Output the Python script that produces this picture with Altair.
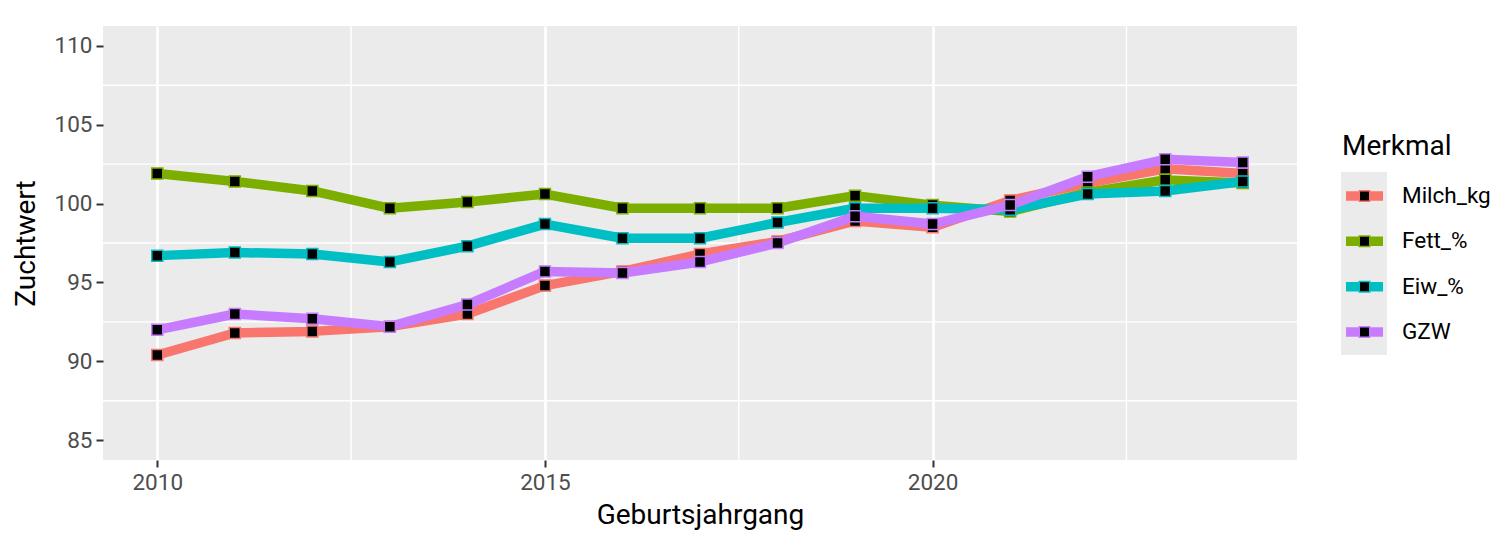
import altair as alt
import pandas as pd

years = list(range(2010, 2025))
milch_kg = [90.4, 91.8, 91.9, 92.2, 93.0, 94.8, 95.7, 96.8, 97.6, 98.9, 98.5, 100.2, 101.3, 102.2, 101.9]
fett_pct = [101.9, 101.4, 100.8, 99.7, 100.1, 100.6, 99.7, 99.7, 99.7, 100.5, 99.9, 99.5, 100.7, 101.5, 101.3]
eiw_pct = [96.7, 96.9, 96.8, 96.3, 97.3, 98.7, 97.8, 97.8, 98.8, 99.7, 99.7, 99.6, 100.6, 100.8, 101.4]
gzw = [92.0, 93.0, 92.7, 92.2, 93.6, 95.7, 95.6, 96.3, 97.5, 99.2, 98.7, 99.9, 101.7, 102.8, 102.6]

categories = ["Milch_kg", "Fett_%", "Eiw_%", "GZW"]
colors = ["#F8766D", "#7CAE00", "#00BFC4", "#C77CFF"]

x_ticks = [2010, 2015, 2020]
x_minor = [2012.5, 2017.5, 2022.5]
y_ticks = [85, 90, 95, 100, 105, 110]
y_minor = [87.5, 92.5, 97.5, 102.5, 107.5]

series = {"Milch_kg": milch_kg, "Fett_%": fett_pct, "Eiw_%": eiw_pct, "GZW": gzw}
rows = []
for cat in categories:
    for yr, v in zip(years, series[cat]):
        rows.append({"Jahr": yr, "Zuchtwert": v, "Merkmal": cat})
df = pd.DataFrame(rows)
df["ord"] = df["Merkmal"].map({c: i for i, c in enumerate(categories)})

FONT = "Roboto"
W, H = 1194, 434

xscale = alt.Scale(domain=[2009.3, 2024.7], nice=False, zero=False)
yscale = alt.Scale(domain=[83.75, 111.25], nice=False, zero=False)
cscale = alt.Scale(domain=categories, range=colors)

x_axis = alt.Axis(
    values=x_ticks,
    format="d",
    title="Geburtsjahrgang",
    titleY=63,
    titleBaseline="alphabetic",
)
y_axis = alt.Axis(
    values=y_ticks,
    title="Zuchtwert",
    titleX=-69,
    titleY=H / 2,
    titleAngle=-90,
    titleBaseline="alphabetic",
    titleAlign="center",
)

minor_x = alt.Chart(pd.DataFrame({"v": x_minor})).mark_rule(
    color="white", strokeWidth=1.4
).encode(x=alt.X("v:Q", scale=xscale, axis=x_axis, title="Geburtsjahrgang"))

minor_y = alt.Chart(pd.DataFrame({"v": y_minor})).mark_rule(
    color="white", strokeWidth=1.4
).encode(y=alt.Y("v:Q", scale=yscale, axis=None))

base = alt.Chart(df)

lines = base.mark_line(strokeWidth=9.5, strokeJoin="round", strokeCap="butt").encode(
    x=alt.X("Jahr:Q", scale=xscale, axis=x_axis, title="Geburtsjahrgang"),
    y=alt.Y("Zuchtwert:Q", scale=yscale, axis=y_axis),
    color=alt.Color("Merkmal:N", scale=cscale, legend=None),
    order=alt.Order("Jahr:Q"),
    detail="ord:O",
)

points = base.mark_square(size=121, fill="black", fillOpacity=1, strokeWidth=1.5, opacity=1).encode(
    x=alt.X("Jahr:Q", scale=xscale, axis=x_axis, title="Geburtsjahrgang"),
    y=alt.Y("Zuchtwert:Q", scale=yscale, axis=None),
    stroke=alt.Stroke("Merkmal:N", scale=cscale, legend=None),
    order=alt.Order("ord:Q"),
)

# Legend (drawn with marks to mimic ggplot keys)
leg_df = pd.DataFrame({"Merkmal": categories})
leg_y = alt.Y(
    "Merkmal:N",
    scale=alt.Scale(type="point", domain=categories, range=[170, 306], padding=0),
    axis=None,
)

leg_bg = alt.Chart(pd.DataFrame({"k": [0]})).mark_rect(color="#EBEBEB").encode(
    x=alt.value(1238), x2=alt.value(1284), y=alt.value(146), y2=alt.value(329)
)

leg_lines = alt.Chart(leg_df).mark_rule(strokeWidth=9.5).encode(
    x=alt.value(1243),
    x2=alt.value(1280),
    y=leg_y,
    color=alt.Color("Merkmal:N", scale=cscale, legend=None),
)

leg_sq = alt.Chart(leg_df).mark_square(size=110, fill="black", fillOpacity=1, strokeWidth=1.5, opacity=1).encode(
    x=alt.value(1261.5),
    y=leg_y,
    stroke=alt.Stroke("Merkmal:N", scale=cscale, legend=None),
)

leg_txt = alt.Chart(leg_df).mark_text(
    align="left", baseline="middle", font=FONT, fontSize=22.5, color="black"
).encode(x=alt.value(1299), y=leg_y, text="Merkmal:N")

leg_title = alt.Chart(pd.DataFrame({"t": ["Merkmal"]})).mark_text(
    align="left", baseline="alphabetic", font=FONT, fontSize=28, color="black"
).encode(x=alt.value(1239), y=alt.value(129), text="t:N")

chart = (
    alt.layer(minor_x, minor_y, lines, points, leg_bg, leg_lines, leg_sq, leg_txt, leg_title)
    .resolve_scale(y="independent")
    .properties(
        width=W,
        height=H,
        autosize=alt.AutoSizeParams(type="none"),
        padding={"left": 95, "top": 18, "right": 205, "bottom": 77},
    )
    .configure_view(fill="#EBEBEB", stroke=None)
    .configure_axis(
        grid=True,
        gridColor="white",
        gridWidth=2.8,
        domain=False,
        tickColor="#333333",
        tickWidth=2,
        tickSize=7,
        labelColor="#4D4D4D",
        labelFont=FONT,
        labelFontSize=22.5,
        labelPadding=4,
        titleFont=FONT,
        titleFontSize=28,
        titleFontWeight="normal",
        titleColor="black",
    )
)

chart.save("out.html", embed_options={"renderer": "svg", "actions": False})
